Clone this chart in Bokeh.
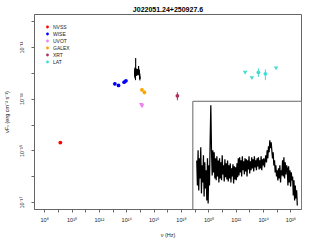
import numpy as np
from bokeh.plotting import figure
from bokeh.models import (Range1d, LinearScale, FixedTicker, CustomJSTickFormatter,
                          Legend, LegendItem)
from bokeh.embed import file_html
from bokeh.resources import INLINE

# ---------------- data (log10 nu [Hz], log10 nuFnu [erg cm^-2 s^-1]) ----------------
title_text = "J022051.24+250927.6"

nvss_lognu = [9.146]
nvss_logf = [-14.68]

wise_lognu = [13.13, 13.40, 13.81, 13.94]
wise_logf = [-12.405, -12.467, -12.34, -12.289]
wise_err = [0.06, 0.03, 0.02, 0.02]

uvot_lognu = [15.06, 15.12]
uvot_logf = [-13.20, -13.25]

galex_lognu = [15.11, 15.29]
galex_logf = [-12.638, -12.739]
galex_err = [0.07, 0.07]

xrt_lognu = [17.70]
xrt_logf = [-12.87]
xrt_err_up = [0.14]
xrt_err_dn = [0.17]

lat_ul_lognu = [22.65, 23.14, 24.91]
lat_ul_logf = [-11.95, -12.157, -11.78]
lat_lognu = [23.62, 24.13]
lat_logf = [-11.963, -12.017]
lat_err_up = [0.155, 0.171]
lat_err_dn = [0.170, 0.245]

# optical spectrum (log nu range and flux samples)
spec_lognu_range = [14.60, 14.96]
spec_logf = [
    -11.887, -12.104, -11.800, -12.147, -11.869, -12.043, -11.773, -12.173, -11.930, -12.078,
    -11.843, -12.200, -11.904, -12.130,
    -11.973, -12.234, -11.869, -12.260, -11.930, -12.104,
    -11.713, -11.408, -11.800,
    -12.017, -11.800, -11.991, -11.817, -12.043, -11.869,
    -12.060, -11.852, -12.026, -11.887, -12.078, -11.869, -12.043, -11.904, -12.060, -11.843,
    -12.008, -11.930, -12.069, -11.878, -12.034, -11.913, -12.052, -11.887,
    -12.069, -11.930, -12.043, -11.913, -12.078, -11.956, -12.026, -11.921, -12.087, -11.939,
    -12.052, -11.947, -12.060, -11.913, -12.034,
    -11.869, -12.017, -11.860, -11.991, -11.887, -12.026, -11.852, -11.973, -11.895, -12.008,
    -11.869, -11.982, -11.878, -12.026, -11.887, -11.965, -11.852, -12.000, -11.895,
    -11.973, -11.860, -11.956, -11.878, -11.982, -11.852, -11.947, -11.887, -11.973, -11.869,
    -11.939, -11.860, -11.965, -11.887, -11.956, -11.852, -11.973, -11.878, -11.930, -11.869,
    -11.947, -11.887,
    -11.843, -11.904, -11.800, -11.869, -11.765, -11.817, -11.713, -11.782, -11.730, -11.800,
    -11.869, -11.817, -11.930, -11.887, -11.991, -11.930, -12.026,
    -11.973, -12.060, -11.956, -12.043, -11.930, -12.078, -11.973, -12.017,
    -11.887, -12.026, -11.860, -12.043, -11.904, -12.008, -11.930,
    -11.956, -12.104, -11.939, -12.078, -11.973, -12.113, -11.991, -12.060,
    -12.026, -12.191, -12.060, -12.234, -12.104, -12.217, -12.147, -12.278,
]

x_tick_exps = [8, 10, 12, 14, 16, 18, 20, 22, 24, 26]
x_tick_labels = ["10⁸", "10¹⁰", "10¹²", "10¹⁴", "10¹⁶", "10¹⁸", "10²⁰", "10²²", "10²⁴", "10²⁶"]
x_minor_exps = [9, 11, 13, 15, 17, 19, 21, 23, 25]
y_tick_exps = [-11, -13, -15, -17]
y_tick_labels = ["10⁻¹¹", "10⁻¹³", "10⁻¹⁵", "10⁻¹⁷"]
y_minor_exps = [-10, -12, -14, -16]

series_names = ["NVSS", "WISE", "UVOT", "GALEX", "XRT", "LAT"]
series_colors = ["#FF0000", "#0000FF", "#EE82EE", "#FFA500", "#B03060", "#40E0D0"]

# ---------------- layout config ----------------
main_xlim = [7.258, 26.77]
main_ylim = [-17.27, -9.72]
inset_xlim = [14.586, 14.975]
inset_ylim = [-12.313, -11.374]
inset_frac_x = 0.593   # left edge of inset as fraction of frame width
inset_frac_y = 0.555   # top edge of inset as fraction of frame height
FONT = "Liberation Sans"
FRAME = "#666666"
TXT = "#222222"


def p10(a):
    return [10.0 ** v for v in a]


p = figure(width=315, height=245, x_axis_type="log", y_axis_type="log",
           x_range=Range1d(10 ** main_xlim[0], 10 ** main_xlim[1]),
           y_range=Range1d(10 ** main_ylim[0], 10 ** main_ylim[1]),
           output_backend="svg", toolbar_location=None,
           min_border_left=32, min_border_right=14, min_border_top=14, min_border_bottom=36)
p.grid.visible = False
p.outline_line_color = FRAME
p.background_fill_color = "white"
p.border_fill_color = "white"

p.title.text = title_text
p.title.align = "center"
p.title.text_font = FONT
p.title.text_font_size = "7px"
p.title.text_font_style = "bold"
p.title.text_color = "black"
p.title.standoff = 3
p.title.offset = 0

# axes
p.xaxis.ticker = FixedTicker(ticks=p10(x_tick_exps), minor_ticks=p10(x_minor_exps))
p.yaxis.ticker = FixedTicker(ticks=p10(y_tick_exps), minor_ticks=p10(y_minor_exps))
fmt_code = """
const e = Math.round(Math.log10(tick));
const i = exps.indexOf(e);
return i >= 0 ? labels[i] : "";
"""
p.xaxis.formatter = CustomJSTickFormatter(args=dict(exps=x_tick_exps, labels=x_tick_labels), code=fmt_code)
p.yaxis.formatter = CustomJSTickFormatter(args=dict(exps=y_tick_exps, labels=y_tick_labels), code=fmt_code)
for ax in (p.xaxis[0], p.yaxis[0]):
    ax.axis_line_color = FRAME
    ax.major_tick_line_color = FRAME
    ax.minor_tick_line_color = FRAME
    ax.major_tick_in = 0
    ax.major_tick_out = 3
    ax.minor_tick_in = 0
    ax.minor_tick_out = 3
    ax.major_label_text_font = FONT
    ax.major_label_text_font_size = "5.5px"
    ax.major_label_text_color = TXT
    ax.axis_label_text_font = FONT
    ax.axis_label_text_font_size = "5.5px"
    ax.axis_label_text_font_style = "normal"
    ax.axis_label_text_color = TXT
p.xaxis.axis_label = "ν (Hz)"
p.xaxis.major_label_standoff = 4
p.xaxis.axis_label_standoff = 6
p.yaxis.axis_label = "νF\u1d65 (erg cm⁻² s⁻¹)"
p.yaxis.major_label_orientation = "vertical"
p.yaxis.major_label_standoff = 6
p.yaxis.axis_label_standoff = 7

# ---------------- inset (linear scales on log values) ----------------
ix0, ix1 = inset_xlim
iy0, iy1 = inset_ylim
ext_x_start = ix0 - (ix1 - ix0) * inset_frac_x / (1 - inset_frac_x)
ext_y_end = iy0 + (iy1 - iy0) / inset_frac_y
p.extra_x_ranges = {"ins": Range1d(ext_x_start, ix1)}
p.extra_y_ranges = {"ins": Range1d(iy0, ext_y_end)}
p.extra_x_scales = {"ins": LinearScale()}
p.extra_y_scales = {"ins": LinearScale()}

spec_lognu = np.linspace(spec_lognu_range[0], spec_lognu_range[1], len(spec_logf))

p.quad(left=[ix0], right=[ix1], bottom=[iy0], top=[iy1], x_range_name="ins", y_range_name="ins",
       fill_color="white", line_color=FRAME, line_width=1)
p.line(spec_lognu, spec_logf, x_range_name="ins", y_range_name="ins", line_color="black", line_width=1.25)

# spectrum in main panel
p.line(p10(spec_lognu), p10(spec_logf), line_color="black", line_width=0.8)


# ---------------- error bars ----------------
def errbar(lognu, logf, up, dn, color):
    p.segment(x0=p10(lognu), x1=p10(lognu),
              y0=[10 ** (f - d) for f, d in zip(logf, dn)],
              y1=[10 ** (f + u) for f, u in zip(logf, up)],
              line_color=color, line_width=1)


errbar(wise_lognu, wise_logf, wise_err, wise_err, series_colors[1])
errbar(galex_lognu, galex_logf, galex_err, galex_err, series_colors[3])
errbar(xrt_lognu, xrt_logf, xrt_err_up, xrt_err_dn, series_colors[4])
errbar(lat_lognu, lat_logf, lat_err_up, lat_err_dn, series_colors[5])

MS = 3.8
TS = 4.5
r_nvss = p.scatter(p10(nvss_lognu), p10(nvss_logf), marker="circle", size=MS,
                   fill_color=series_colors[0], line_width=0)
r_wise = p.scatter(p10(wise_lognu), p10(wise_logf), marker="circle", size=MS,
                   fill_color=series_colors[1], line_width=0)
# legend helper for UVOT (circle key; points themselves drawn as upper-limit triangles)
r_uvot = p.scatter(p10(uvot_lognu), p10(uvot_logf), marker="circle", size=0.1,
                   fill_color=series_colors[2], line_width=0)
p.scatter(p10(uvot_lognu), p10(uvot_logf), marker="inverted_triangle", size=TS,
          fill_color=series_colors[2], line_width=0)
r_galex = p.scatter(p10(galex_lognu), p10(galex_logf), marker="circle", size=MS,
                    fill_color=series_colors[3], line_width=0)
r_xrt = p.scatter(p10(xrt_lognu), p10(xrt_logf), marker="circle", size=MS,
                  fill_color=series_colors[4], line_width=0)
p.scatter(p10(lat_ul_lognu), p10(lat_ul_logf), marker="inverted_triangle", size=TS,
          fill_color=series_colors[5], line_width=0)
r_lat = p.scatter(p10(lat_lognu), p10(lat_logf), marker="circle", size=MS,
                  fill_color=series_colors[5], line_width=0)

renderers = [r_nvss, r_wise, r_uvot, r_galex, r_xrt, r_lat]
legend = Legend(items=[LegendItem(label=n, renderers=[r]) for n, r in zip(series_names, renderers)],
                location="top_left", border_line_color=None, background_fill_alpha=0,
                label_text_font=FONT, label_text_font_size="5px", label_text_color=TXT,
                glyph_width=8, glyph_height=7, label_height=7, spacing=0, padding=0,
                margin=9, label_standoff=2)
p.add_layout(legend)

open("out.html", "w").write(file_html(p, INLINE))
